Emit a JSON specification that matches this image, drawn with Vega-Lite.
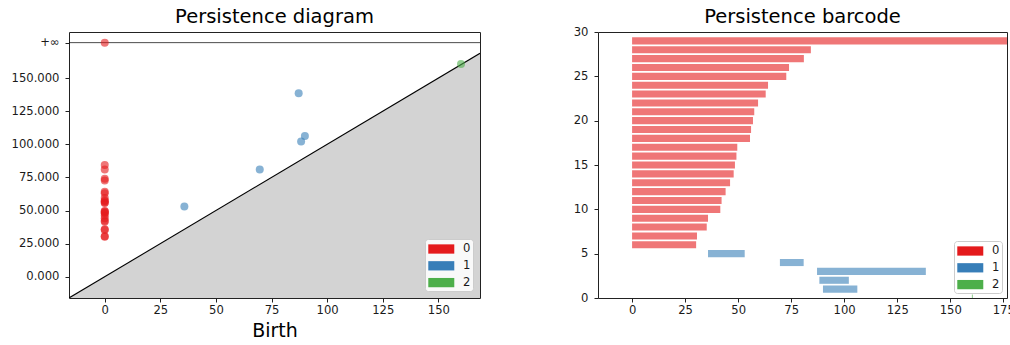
{
  "$schema": "https://vega.github.io/schema/vega-lite/v6.json",
  "background": "white",
  "padding": {"left": 10, "top": 6, "right": 0, "bottom": 0},
  "bounds": "flush",
  "spacing": 118,
  "datasets": {
    "pairs": [
      {"dim": "2", "birth": 160.2, "death": 160.7, "row": 0},
      {"dim": "1", "birth": 90.0, "death": 106.2, "row": 1},
      {"dim": "1", "birth": 88.3, "death": 102.2, "row": 2},
      {"dim": "1", "birth": 87.2, "death": 138.5, "row": 3},
      {"dim": "1", "birth": 69.7, "death": 80.9, "row": 4},
      {"dim": "1", "birth": 35.8, "death": 53.1, "row": 5},
      {"dim": "0", "birth": 0, "death": 30.2, "row": 6},
      {"dim": "0", "birth": 0, "death": 30.6, "row": 7},
      {"dim": "0", "birth": 0, "death": 35.2, "row": 8},
      {"dim": "0", "birth": 0, "death": 35.8, "row": 9},
      {"dim": "0", "birth": 0, "death": 41.6, "row": 10},
      {"dim": "0", "birth": 0, "death": 42.2, "row": 11},
      {"dim": "0", "birth": 0, "death": 44.1, "row": 12},
      {"dim": "0", "birth": 0, "death": 46.2, "row": 13},
      {"dim": "0", "birth": 0, "death": 47.9, "row": 14},
      {"dim": "0", "birth": 0, "death": 48.5, "row": 15},
      {"dim": "0", "birth": 0, "death": 49.2, "row": 16},
      {"dim": "0", "birth": 0, "death": 49.6, "row": 17},
      {"dim": "0", "birth": 0, "death": 55.6, "row": 18},
      {"dim": "0", "birth": 0, "death": 56.1, "row": 19},
      {"dim": "0", "birth": 0, "death": 57.0, "row": 20},
      {"dim": "0", "birth": 0, "death": 57.6, "row": 21},
      {"dim": "0", "birth": 0, "death": 59.4, "row": 22},
      {"dim": "0", "birth": 0, "death": 63.0, "row": 23},
      {"dim": "0", "birth": 0, "death": 64.1, "row": 24},
      {"dim": "0", "birth": 0, "death": 72.7, "row": 25},
      {"dim": "0", "birth": 0, "death": 74.0, "row": 26},
      {"dim": "0", "birth": 0, "death": 81.0, "row": 27},
      {"dim": "0", "birth": 0, "death": 84.3, "row": 28},
      {"dim": "0", "birth": 0, "death": 176.77, "row": 29}
    ],
    "diag": [
      {"birth": -16.07, "death": -16.07},
      {"birth": 168.735, "death": 168.735}
    ],
    "infline": [
      {"birth": -16.07, "death": 176.77},
      {"birth": 176.77, "death": 176.77}
    ]
  },
  "resolve": {"scale": {"color": "independent"}, "legend": {"color": "independent"}},
  "hconcat": [
    {
      "width": 411,
      "height": 266,
      "title": {"text": "Persistence diagram", "offset": 5},
      "encoding": {
        "x": {
          "field": "birth", "type": "quantitative",
          "scale": {"domain": [-16.07, 168.735], "nice": false, "zero": false, "padding": 0},
          "axis": {"title": "Birth", "values": [0, 25, 50, 75, 100, 125, 150]}
        },
        "y": {
          "field": "death", "type": "quantitative",
          "scale": {"domain": [-16.07, 184.8], "nice": false, "zero": false, "padding": 0},
          "axis": {
            "title": null,
            "values": [0, 25, 50, 75, 100, 125, 150, 176.77],
            "labelExpr": "datum.value > 170 ? '+∞' : format(datum.value, '.3f')"
          }
        }
      },
      "layer": [
        {
          "data": {"name": "diag"},
          "mark": {"type": "area", "color": "#d3d3d3", "opacity": 1, "clip": true},
          "encoding": {"y2": {"datum": -16.07}}
        },
        {
          "data": {"name": "diag"},
          "mark": {"type": "line", "color": "#000000", "strokeWidth": 1.1, "clip": true}
        },
        {
          "data": {"name": "infline"},
          "mark": {"type": "line", "color": "#000000", "strokeWidth": 1, "opacity": 0.7, "clip": true}
        },
        {
          "data": {"name": "pairs"},
          "mark": {"type": "circle", "size": 64, "opacity": 0.6, "clip": true},
          "encoding": {
            "color": {
              "field": "dim", "type": "nominal",
              "scale": {"domain": ["0", "1", "2"], "range": ["#e41a1c", "#377eb8", "#4daf4a"]},
              "legend": {
                "title": null,
                "orient": "bottom-right",
                "offset": 7,
                "symbolType": "M-0.84,-0.58H2.41V0.58H-0.84Z",
                "symbolOpacity": 1
              }
            }
          }
        }
      ]
    },
    {
      "width": 409,
      "height": 266,
      "title": {"text": "Persistence barcode", "offset": -1.5},
      "data": {"name": "pairs"},
      "mark": {"type": "bar", "orient": "horizontal", "size": 7.09, "opacity": 0.6, "clip": true},
      "encoding": {
        "x": {
          "field": "birth", "type": "quantitative",
          "scale": {"domain": [-16.07, 176.77], "nice": false, "zero": false, "padding": 0},
          "axis": {"title": null, "values": [0, 25, 50, 75, 100, 125, 150, 175]}
        },
        "x2": {"field": "death"},
        "y": {
          "field": "row", "type": "quantitative",
          "scale": {"domain": [0, 30], "nice": false, "zero": false, "padding": 0},
          "axis": {"title": null, "values": [0, 5, 10, 15, 20, 25, 30]}
        },
        "color": {
          "field": "dim", "type": "nominal",
          "scale": {"domain": ["0", "1", "2"], "range": ["#e41a1c", "#377eb8", "#4daf4a"]},
          "legend": {
            "title": null,
            "orient": "bottom-right",
            "offset": 5,
            "symbolType": "M-0.84,-0.58H2.41V0.58H-0.84Z",
            "symbolOpacity": 1
          }
        }
      }
    }
  ],
  "config": {
    "font": "DejaVu Sans",
    "view": {"stroke": "#222222", "strokeWidth": 1},
    "axis": {
      "grid": false,
      "domain": false,
      "ticks": true,
      "tickColor": "#222222",
      "tickSize": 4,
      "tickWidth": 1,
      "labelFont": "DejaVu Sans",
      "labelFontSize": 11.6,
      "labelColor": "#1a1a1a",
      "labelPadding": 6,
      "labelFlush": false,
      "labelOverlap": false,
      "titleFont": "DejaVu Sans",
      "titleFontSize": 19,
      "titleFontWeight": "normal",
      "titleColor": "#000000",
      "titlePadding": 5.5
    },
    "axisX": {"labelPadding": 2},
    "title": {"font": "DejaVu Sans", "fontSize": 19.5, "fontWeight": "normal", "color": "#000000", "anchor": "middle", "frame": "group"},
    "legend": {
      "padding": 2,
      "fillColor": "rgba(255,255,255,0.85)",
      "strokeColor": "#cccccc",
      "cornerRadius": 3,
      "symbolSize": 256,
      "symbolStrokeWidth": 0,
      "labelFont": "DejaVu Sans",
      "labelFontSize": 11.6,
      "labelColor": "#1a1a1a",
      "labelOffset": 20,
      "rowPadding": 2.8
    }
  }
}
